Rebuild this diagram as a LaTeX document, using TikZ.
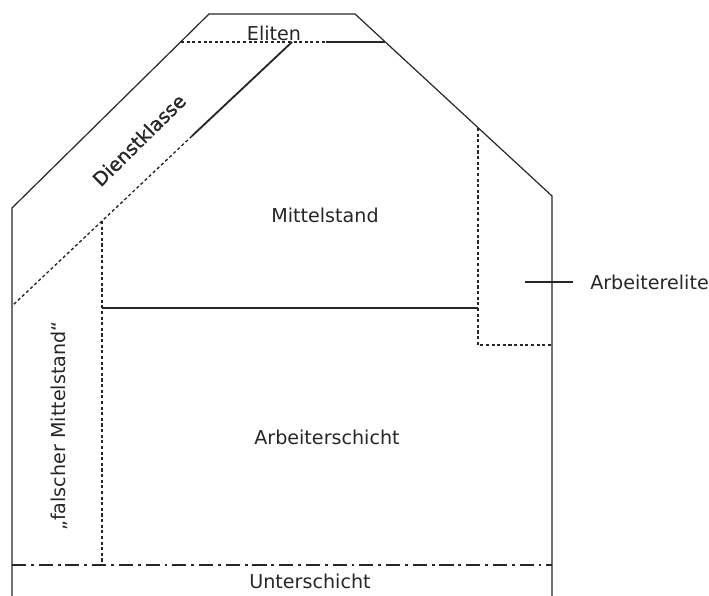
\documentclass[tikz,border=0pt]{standalone}
\usepackage{fontspec}
\setmainfont{DejaVu Sans}
\begin{document}
\begin{tikzpicture}[
  x=0.025cm, y=-0.025cm,
  wand/.style={line width=0.85pt, black!85},
  grenze/.style={line width=0.95pt, black!85, dash pattern=on 2.2pt off 1.8pt},
  boden/.style={line width=1.7pt, black!85, dash pattern=on 10pt off 3.5pt on 2pt off 3.5pt},
  schicht/.style={font=\fontsize{13.6}{16}\selectfont, text=black!85, inner sep=0pt}
]
\useasboundingbox (0,0) rectangle (709,596);

% ================= HAUS =================
\coordinate (fussL) at (12,596);
\coordinate (eckeL) at (12,208);
\coordinate (firstL) at (209,14);
\coordinate (firstR) at (355,14);
\coordinate (eckeR) at (552,196);
\coordinate (fussR) at (552,596);

\draw[wand] (fussL) -- (eckeL) -- (firstL) -- (firstR) -- (eckeR) -- (fussR);

% ================= ELITEN =================
\coordinate (elL) at (181,42);
\coordinate (elM) at (326,42);
\coordinate (elR) at (385,42);
\coordinate (dkO) at (292,42);

\draw[grenze] (elL) -- (elM);
\draw[wand, line width=1.4pt] (elM) -- (elR);
\node[schicht] (eliten) at (274,33) {Eliten};

% ================= DIENSTKLASSE =================
\coordinate (dkM) at (192,136);
\coordinate (fmO) at (102,221);
\coordinate (dkU) at (12,306);

\draw[wand, line width=1.3pt] (dkO) -- (dkM);
\draw[grenze] (dkM) -- (fmO) -- (dkU);
\node[schicht, rotate=44.6, font=\fontsize{13.6}{16}\selectfont\addfontfeature{FakeBold=1.2}]
  (dienst) at (139,140) {Dienstklasse};

% ================= MITTE =================
\coordinate (fmU) at (102,565);
\coordinate (msL) at (102,308);
\coordinate (msR) at (478,308);
\coordinate (aeO) at (478,128);
\coordinate (aeU) at (478,345);
\coordinate (aeR) at (552,345);

\draw[grenze] (fmO) -- (fmU);
\draw[wand] (msL) -- (msR);
\draw[grenze] (aeO) -- (aeU) -- (aeR);

\node[schicht] (mittel) at (325,215) {Mittelstand};
\node[schicht] (arbeiter) at (327,437) {Arbeiterschicht};
\node[schicht, rotate=90] (falsch) at (59,426) {„falscher Mittelstand“};

% ================= ARBEITERELITE =================
\coordinate (strich) at (525,282);
\node[schicht, anchor=west] (elite) at (590,282) {Arbeiterelite};
\draw[wand] (strich) -- ([xshift=-12]elite.west);

% ================= UNTERSCHICHT =================
\coordinate (usL) at (12,565);
\coordinate (usR) at (552,565);

\draw[boden] (usL) -- (usR);
\node[schicht] (unter) at (310,581) {Unterschicht};

\end{tikzpicture}
\end{document}
